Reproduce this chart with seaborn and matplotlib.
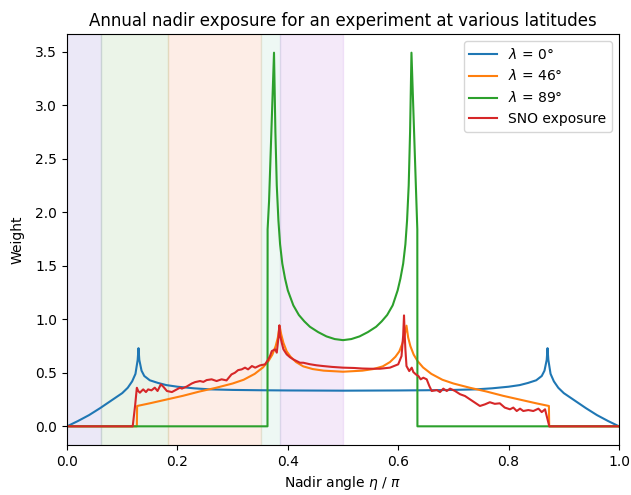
import matplotlib
matplotlib.use("Agg")
import matplotlib.pyplot as plt
import seaborn as sns
import numpy as np

# ---- data ----
blue_x = [0, 0.02, 0.04, 0.06, 0.08, 0.10, 0.11, 0.118, 0.124, 0.128, 0.1295, 0.131, 0.135, 0.14,
          0.15, 0.165, 0.18, 0.2, 0.23, 0.26, 0.3, 0.35, 0.4, 0.45, 0.5, 0.55, 0.6, 0.65, 0.7, 0.74,
          0.77, 0.8, 0.82, 0.835, 0.85, 0.86, 0.865, 0.869, 0.8705, 0.872, 0.876, 0.882, 0.89, 0.90,
          0.92, 0.94, 0.96, 0.98, 1.0]
blue_y = [0, 0.05, 0.105, 0.17, 0.24, 0.31, 0.36, 0.42, 0.49, 0.62, 0.73, 0.62, 0.52, 0.47,
          0.43, 0.405, 0.385, 0.37, 0.355, 0.345, 0.34, 0.337, 0.335, 0.334, 0.333, 0.334, 0.335, 0.337, 0.34, 0.345,
          0.355, 0.37, 0.385, 0.405, 0.43, 0.47, 0.52, 0.62, 0.73, 0.62, 0.49, 0.42, 0.36, 0.31,
          0.24, 0.17, 0.105, 0.05, 0]

orange_x = [0, 0.1265, 0.127, 0.15, 0.18, 0.21, 0.24, 0.27, 0.30, 0.32, 0.34, 0.355, 0.365, 0.372,
            0.378, 0.382, 0.385, 0.388, 0.392, 0.398, 0.405, 0.415, 0.428, 0.445, 0.465, 0.5,
            0.535, 0.555, 0.572, 0.585, 0.595, 0.602, 0.608, 0.612, 0.615, 0.618, 0.622, 0.628,
            0.635, 0.645, 0.66, 0.68, 0.70, 0.73, 0.76, 0.79, 0.82, 0.85, 0.873, 0.8735, 1.0]
orange_y = [0, 0, 0.19, 0.215, 0.25, 0.285, 0.325, 0.36, 0.40, 0.435, 0.49, 0.55, 0.61, 0.67,
            0.75, 0.83, 0.94, 0.86, 0.78, 0.70, 0.65, 0.60, 0.56, 0.535, 0.52, 0.51,
            0.52, 0.535, 0.56, 0.60, 0.65, 0.70, 0.78, 0.86, 0.94, 0.83, 0.75, 0.67,
            0.61, 0.55, 0.49, 0.435, 0.40, 0.36, 0.325, 0.285, 0.25, 0.215, 0.19, 0, 0]

green_x = [0, 0.3632, 0.3634, 0.366, 0.375, 0.3775, 0.380, 0.383, 0.386, 0.39, 0.395, 0.40, 0.41,
           0.42, 0.43, 0.44, 0.455, 0.47, 0.485, 0.5, 0.515, 0.53, 0.545, 0.56, 0.57, 0.58, 0.59,
           0.599, 0.604, 0.609, 0.613, 0.616, 0.619, 0.6215, 0.624, 0.6346, 0.6348, 1.0]
green_y = [0, 0, 1.84, 2.1, 3.49, 2.75, 2.25, 1.92, 1.70, 1.52, 1.38, 1.27, 1.13,
           1.04, 0.98, 0.93, 0.88, 0.84, 0.815, 0.805, 0.815, 0.84, 0.88, 0.93, 0.98, 1.04, 1.13,
           1.27, 1.38, 1.52, 1.70, 1.92, 2.25, 2.75, 3.49, 1.84, 0, 0]

red_x = [0, 0.119, 0.1235, 0.1265, 0.129, 0.132, 0.135, 0.138, 0.143, 0.147, 0.153, 0.159, 0.164,
         0.170, 0.1745, 0.181, 0.190, 0.199, 0.2047, 0.208, 0.217, 0.226, 0.232, 0.241, 0.247,
         0.253, 0.262, 0.271, 0.280, 0.289, 0.298, 0.304, 0.310, 0.3165, 0.3225, 0.328, 0.335,
         0.341, 0.3496, 0.3587, 0.3647, 0.368, 0.371, 0.377, 0.380, 0.3835, 0.3847, 0.386, 0.389,
         0.392, 0.398, 0.404, 0.41, 0.422, 0.428, 0.44, 0.452, 0.464, 0.48, 0.5, 0.52, 0.535,
         0.549, 0.567, 0.585, 0.600, 0.606, 0.609, 0.6105, 0.6118, 0.613, 0.615, 0.620, 0.6245,
         0.6274, 0.632, 0.6365, 0.6407, 0.6455, 0.6516, 0.6564, 0.6607, 0.670, 0.6757, 0.6817,
         0.688, 0.694, 0.703, 0.712, 0.721, 0.730, 0.739, 0.748, 0.757, 0.766, 0.775, 0.784,
         0.793, 0.8025, 0.8085, 0.8147, 0.8207, 0.8266, 0.8357, 0.8447, 0.854, 0.860, 0.866,
         0.869, 0.8737, 1.0]
red_y = [0, 0, 0.2, 0.36, 0.33, 0.314, 0.33, 0.345, 0.32, 0.345, 0.336, 0.361, 0.33,
         0.392, 0.37, 0.33, 0.32, 0.345, 0.361, 0.352, 0.372, 0.40, 0.413, 0.423, 0.415,
         0.432, 0.439, 0.423, 0.439, 0.429, 0.485, 0.50, 0.525, 0.532, 0.548, 0.532, 0.563,
         0.548, 0.569, 0.579, 0.625, 0.66, 0.703, 0.719, 0.688, 0.85, 0.943, 0.85, 0.78,
         0.72, 0.672, 0.645, 0.625, 0.594, 0.594, 0.58, 0.57, 0.563, 0.555, 0.548, 0.545, 0.54,
         0.538, 0.538, 0.548, 0.579, 0.656, 0.85, 1.036, 0.85, 0.72, 0.563, 0.516, 0.548,
         0.507, 0.485, 0.47, 0.439, 0.454, 0.439, 0.376, 0.33, 0.339, 0.32, 0.352,
         0.33, 0.352, 0.33, 0.30, 0.283, 0.252, 0.221, 0.19, 0.205, 0.225, 0.21, 0.215,
         0.175, 0.159, 0.175, 0.143, 0.165, 0.143, 0.152, 0.143, 0.165, 0.133, 0.159,
         0.096, 0.0, 0]

series_labels = [r"$\lambda$ = 0°", r"$\lambda$ = 46°", r"$\lambda$ = 89°", "SNO exposure"]
series_colors = ["#1f77b4", "#ff7f0e", "#2ca02c", "#d62728"]

layer_edges = [0.0, 0.0614, 0.1833, 0.352, 0.3855, 0.5]
layer_colors = ["#4123b9", "#3d9b1f", "#f0560a", "#5ac39a", "#9b2dcd"]

# ---- figure ----
fig = plt.figure(figsize=(6.31, 4.95), dpi=100)
ax = fig.add_axes([0.1062, 0.101, 0.8748, 0.8303])

for i, c in enumerate(layer_colors):
    ax.axvspan(layer_edges[i], layer_edges[i + 1], color=c, alpha=0.1, lw=1, zorder=0)

for xs, ys, lab, col in zip([blue_x, orange_x, green_x, red_x],
                            [blue_y, orange_y, green_y, red_y],
                            series_labels, series_colors):
    sns.lineplot(x=xs, y=ys, ax=ax, label=lab, color=col, sort=False,
                 estimator=None, linewidth=1.5)

ax.set_xlim(0, 1)
ax.set_title("Annual nadir exposure for an experiment at various latitudes")
ax.set_xlabel(r"Nadir angle $\eta$ / $\pi$")
ax.set_ylabel("Weight", labelpad=7.5)
ax.legend(loc="upper right")

fig.savefig("out.png", dpi=100)
